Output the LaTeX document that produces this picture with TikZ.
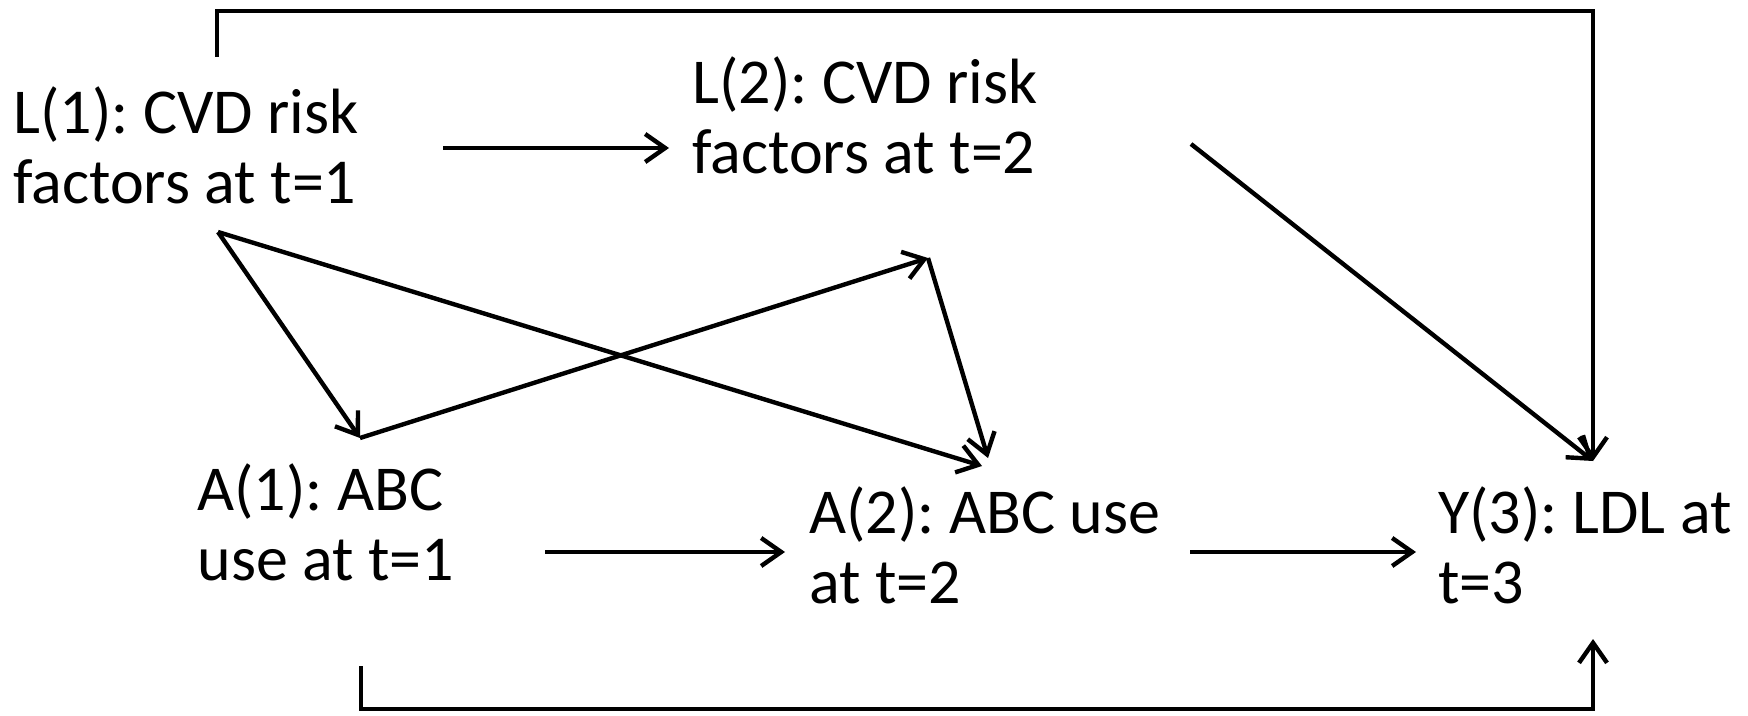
\documentclass[tikz,border=0pt]{standalone}
\usepackage{fontspec}
\setmainfont{Carlito}
\frenchspacing
\usetikzlibrary{arrows.meta}
\begin{document}
\begin{tikzpicture}[
x=0.5pt, y=-0.5pt,
var/.style={align=left, inner sep=0, anchor=base west, font=\fontsize{32}{35}\selectfont},
arrow/.style={-{Straight Barb[length=10pt, width=14pt]}, line width=2.2pt}
]
\useasboundingbox (0,0) rectangle (1748,716);
\node[var] (l1) at (13,204) {L(1): CVD risk\\factors at t=1};
\node[var] (l2) at (692,174) {L(2): CVD risk\\factors at t=2};
\node[var] (a1) at (197,580) {A(1): ABC\\use at t=1};
\node[var] (a2) at (809,603) {A(2): ABC use\\at t=2};
\node[var] (y3) at (1438,603) {Y(3): LDL at\\t=3};
\draw[arrow] ([shift={(430,-56)}]l1.base west) -- ([shift={(-23,-26)}]l2.base west);
\draw[arrow] ([shift={(348,-28)}]a1.base west) -- ([shift={(-24,-51)}]a2.base west);
\draw[arrow] ([shift={(381,-51)}]a2.base west) -- ([shift={(-22,-51)}]y3.base west);
\draw[arrow] ([shift={(499,-30)}]l2.base west) -- ([shift={(155,-142)}]y3.base west);
\draw[arrow] ([shift={(204,-147)}]l1.base west) -- ++(0,-46) -| ([shift={(155,-142)}]y3.base west);
\draw[arrow] ([shift={(164,86)}]a1.base west) -- ++(0,43) -| ([shift={(155,36)}]y3.base west);
\draw[arrow] ([shift={(205,28)}]l1.base west) -- ([shift={(163,-142)}]a1.base west);
\draw[arrow] ([shift={(205,28)}]l1.base west) -- ([shift={(173,-137)}]a2.base west);
\draw[arrow] ([shift={(163,-142)}]a1.base west) -- ([shift={(236,84)}]l2.base west);
\draw[arrow] ([shift={(236,84)}]l2.base west) -- ([shift={(179,-145)}]a2.base west);
\end{tikzpicture}
\end{document}
